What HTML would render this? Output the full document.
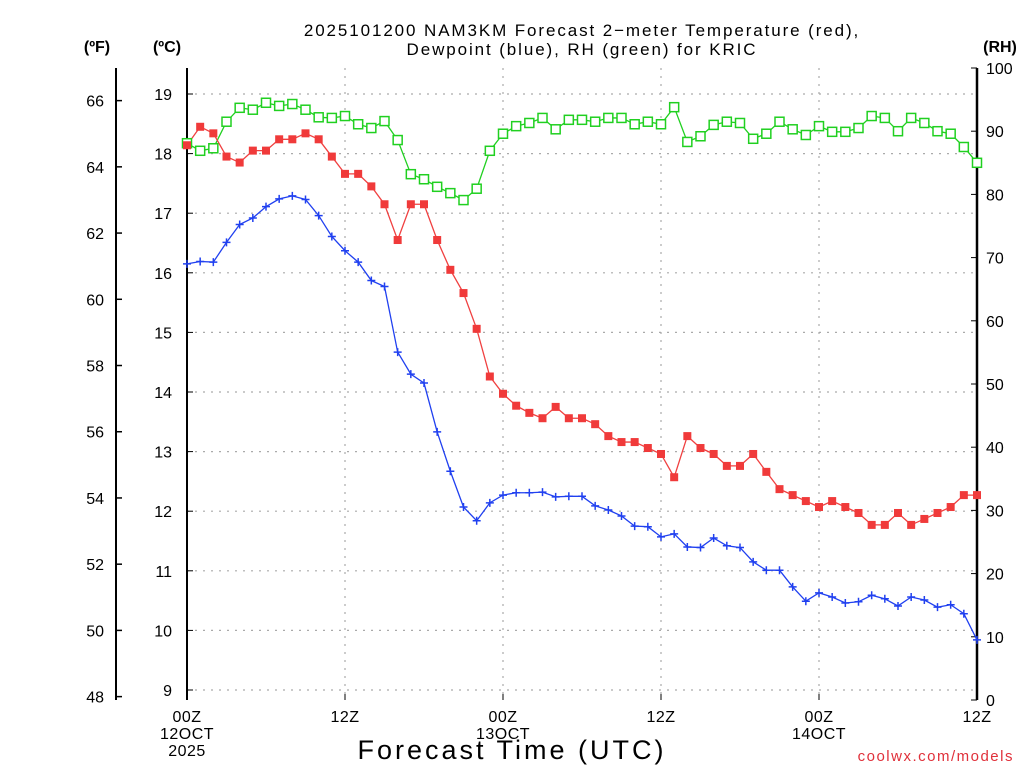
<!DOCTYPE html>
<html><head><meta charset="utf-8"><style>
body{margin:0;background:#fff;width:1024px;height:768px;overflow:hidden}
svg{font-family:"Liberation Sans",sans-serif}
</style></head><body>
<svg id="chart" width="1024" height="768" viewBox="0 0 1024 768" xmlns="http://www.w3.org/2000/svg">
<text x="582" y="36" font-size="17" text-anchor="middle" letter-spacing="1.9">2025101200 NAM3KM Forecast 2−meter Temperature (red),</text>
<text x="582" y="55" font-size="17" text-anchor="middle" letter-spacing="1.9">Dewpoint (blue), RH (green) for KRIC</text>
<text x="97" y="52" font-size="16" font-weight="bold" text-anchor="middle">(ºF)</text>
<text x="167" y="52" font-size="16" font-weight="bold" text-anchor="middle">(ºC)</text>
<text x="1000" y="52" font-size="16" font-weight="bold" text-anchor="middle">(RH)</text>
<text x="512" y="759" font-size="27" text-anchor="middle" letter-spacing="3">Forecast Time (UTC)</text>
<text x="1014" y="761" font-size="15" fill="#e0303a" text-anchor="end" letter-spacing="1.5">coolwx.com/models</text>
<g id="grid"></g><g id="axes"></g><g id="series"></g>
</svg>
<script>
const hours=[...Array(61).keys()];
const tempC=[18.14,18.45,18.34,17.95,17.85,18.05,18.05,18.24,18.24,18.34,18.24,17.95,17.66,17.66,17.45,17.15,16.55,17.15,17.15,16.55,16.05,15.66,15.06,14.26,13.97,13.77,13.65,13.56,13.75,13.56,13.56,13.46,13.26,13.16,13.16,13.06,12.96,12.57,13.26,13.06,12.96,12.76,12.76,12.96,12.66,12.37,12.27,12.17,12.07,12.17,12.07,11.97,11.77,11.77,11.97,11.77,11.87,11.97,12.07,12.27,12.27];
const dewC=[16.15,16.19,16.18,16.51,16.81,16.92,17.11,17.24,17.29,17.23,16.96,16.61,16.37,16.18,15.87,15.77,14.67,14.30,14.15,13.33,12.67,12.07,11.84,12.14,12.27,12.31,12.31,12.32,12.24,12.25,12.25,12.09,12.02,11.92,11.75,11.74,11.57,11.62,11.40,11.39,11.55,11.42,11.39,11.15,11.01,11.01,10.73,10.49,10.63,10.56,10.46,10.48,10.59,10.53,10.41,10.56,10.51,10.39,10.43,10.28,9.84];
const rh=[88.1,86.9,87.3,91.5,93.7,93.4,94.5,94.0,94.3,93.4,92.2,92.1,92.4,91.1,90.5,91.6,88.6,83.2,82.4,81.2,80.2,79.1,80.9,86.9,89.6,90.8,91.3,92.1,90.3,91.8,91.8,91.5,92.1,92.1,91.1,91.5,91.1,93.8,88.3,89.2,91.0,91.5,91.3,88.8,89.6,91.5,90.3,89.4,90.8,89.9,89.9,90.5,92.4,92.1,90.0,92.1,91.3,90.0,89.6,87.5,85.0];
const cTicks=[9,10,11,12,13,14,15,16,17,18,19];
const fTicks=[48,50,52,54,56,58,60,62,64,66];
const rhTicks=[0,10,20,30,40,50,60,70,80,90,100];
const xTicks=[{h:0,l:["00Z","12OCT","2025"]},{h:12,l:["12Z"]},{h:24,l:["00Z","13OCT"]},{h:36,l:["12Z"]},{h:48,l:["00Z","14OCT"]},{h:60,l:["12Z"]}];
const X0=187,X1=977,YT=68,YB=700;
const xS=h=>X0+(X1-X0)*h/60;
const cS=c=>94+(19-c)*59.6;
const fS=f=>cS((f-32)*5/9);
const rS=r=>YB-(YB-YT)*r/100;
const NS="http://www.w3.org/2000/svg";
function mk(tag,attrs,parent,text){const e=document.createElementNS(NS,tag);for(const k in attrs)e.setAttribute(k,attrs[k]);if(text!==undefined)e.textContent=text;parent.appendChild(e);return e;}
const grid=document.getElementById('grid'),axes=document.getElementById('axes'),ser=document.getElementById('series');
cTicks.forEach(c=>{const y=cS(c);
 const g=mk('line',{x1:X0,x2:X1,y1:y,y2:y,stroke:'#aaa','stroke-width':1.2,'stroke-dasharray':'2,6'},grid);
 
 
 mk('line',{x1:X0,x2:X0+6,y1:y,y2:y,stroke:'#000'},axes);
 const t=mk('text',{x:172,y:y+6,'font-size':16,'text-anchor':'end'},axes,c);
 
 });
[12,24,36,48].forEach(h=>{const x=xS(h);
 const g=mk('line',{x1:x,x2:x,y1:YT,y2:YB,stroke:'#aaa','stroke-width':1.2,'stroke-dasharray':'2,6'},grid);
 
 });
fTicks.forEach(f=>{const y=fS(f);
 mk('line',{x1:116,x2:122,y1:y,y2:y,stroke:'#000','stroke-width':1.5},axes);
 const t=mk('text',{x:104,y:y+6,'font-size':16,'text-anchor':'end'},axes,f);
 
 });
rhTicks.forEach(r=>{const y=rS(r);
 mk('line',{x1:X1-6,x2:X1,y1:y,y2:y,stroke:'#000'},axes);
 const t=mk('text',{x:986,y:y+6,'font-size':16},axes,r);
 
 });
xTicks.forEach(o=>{const x=xS(o.h);
 mk('line',{x1:x,x2:x,y1:YB,y2:YB-6,stroke:'#000'},axes);
 o.l.forEach((s,i)=>{const t=mk('text',{x:x,y:722+i*17,'font-size':16,'text-anchor':'middle','letter-spacing':0.5},axes,s);
 
 });});
mk('line',{x1:116,x2:116,y1:68,y2:700,stroke:'#000','stroke-width':2},axes);
mk('line',{x1:X0,x2:X0,y1:YT,y2:YB,stroke:'#000','stroke-width':2},axes);
mk('line',{x1:X1,x2:X1,y1:YT,y2:YB,stroke:'#000','stroke-width':2.5},axes);
function line(arr,ys,color,name){const p=mk('polyline',{points:arr.map((v,i)=>xS(hours[i])+','+ys(v)).join(' '),fill:'none',stroke:color,'stroke-width':1.3},ser);
 
 }
line(rh,rS,'#20d020','rh-line');
line(tempC,cS,'#f04040','temperature-line');
line(dewC,cS,'#2040f0','dewpoint-line');
rh.forEach((v,i)=>{const r=mk('rect',{x:xS(hours[i])-4.5,y:rS(v)-4.5,width:9,height:9,fill:'#fff',stroke:'#20d020','stroke-width':1.5},ser);
 
 });
tempC.forEach((v,i)=>{const r=mk('rect',{x:xS(hours[i])-4,y:cS(v)-4,width:8,height:8,fill:'#f03a3a'},ser);
 
 });
dewC.forEach((v,i)=>{const x=xS(hours[i]),y=cS(v);const p=mk('path',{d:`M${x-4},${y}h8M${x},${y-4}v8`,stroke:'#2040f0','stroke-width':1.5},ser);
 
 });
</script>
</body></html>
